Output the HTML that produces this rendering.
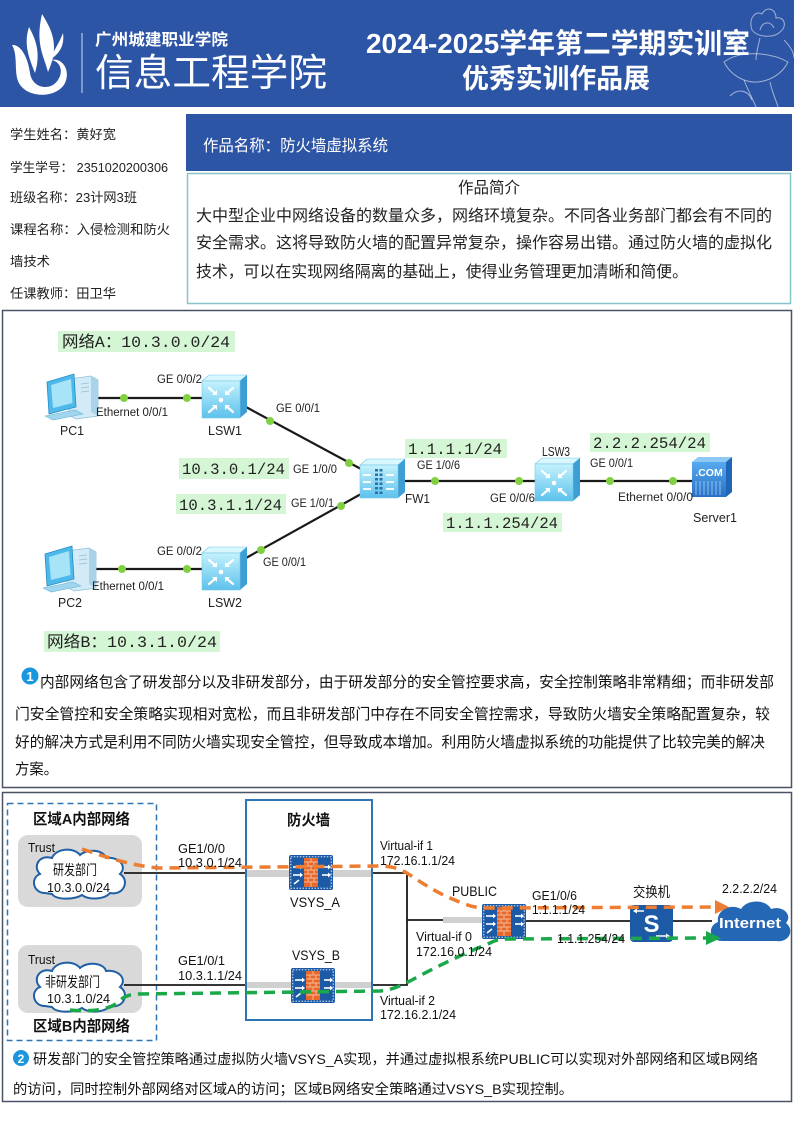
<!DOCTYPE html>
<html><head><meta charset="utf-8"><style>
html,body{margin:0;padding:0;background:#fff;}
svg{display:block;}
text{font-family:"Liberation Sans","Noto Sans CJK SC",sans-serif;}
.m{font-family:"Liberation Mono","Noto Sans CJK SC",monospace;}
</style></head><body>
<svg width="794" height="1123" viewBox="0 0 794 1123" xmlns="http://www.w3.org/2000/svg">
<defs>
<linearGradient id="gsw" x1="0" y1="0" x2="0" y2="1"><stop offset="0" stop-color="#c4f2fd"/><stop offset="1" stop-color="#5cc1ec"/></linearGradient>
<linearGradient id="gsv" x1="0" y1="0" x2="0" y2="1"><stop offset="0" stop-color="#55aaf0"/><stop offset="1" stop-color="#2a70c6"/></linearGradient>
<g id="sw">
 <polygon points="0,6 7,0 45,0 38,6" fill="#d9f7fe" stroke="#78c8e8" stroke-width="0.6"/>
 <polygon points="38,6 45,0 45,37 38,43" fill="#3c9ed3"/>
 <rect x="0" y="6" width="38" height="37" fill="url(#gsw)" stroke="#78c8e8" stroke-width="0.6"/>
 <g stroke="#fff" stroke-width="2.2" fill="none" stroke-linecap="round">
  <path d="M7,13 L14,19"/><path d="M31,13 L24,19"/><path d="M7,37 L14,31"/><path d="M31,37 L24,31"/>
 </g>
 <g fill="#fff">
  <polygon points="15,20 10,20 15,15"/><polygon points="23,20 28,20 23,15"/><polygon points="15,30 10,30 15,35"/><polygon points="23,30 28,30 23,35"/>
  <circle cx="19" cy="25" r="2.3"/>
 </g>
</g>
<g id="fw">
 <polygon points="0,6 7,0 45,0 38,6" fill="#d9f7fe" stroke="#78c8e8" stroke-width="0.6"/>
 <polygon points="38,6 45,0 45,33 38,39" fill="#3c9ed3"/>
 <rect x="0" y="6" width="38" height="33" fill="url(#gsw)" stroke="#78c8e8" stroke-width="0.6"/>
 <g fill="#2b6fa8">
  <rect x="15" y="10" width="3" height="2.5"/><rect x="19.5" y="10" width="3" height="2.5"/>
  <rect x="15" y="14.5" width="3" height="2.5"/><rect x="19.5" y="14.5" width="3" height="2.5"/>
  <rect x="15" y="19" width="3" height="2.5"/><rect x="19.5" y="19" width="3" height="2.5"/>
  <rect x="15" y="23.5" width="3" height="2.5"/><rect x="19.5" y="23.5" width="3" height="2.5"/>
  <rect x="15" y="28" width="3" height="2.5"/><rect x="19.5" y="28" width="3" height="2.5"/>
  <rect x="15" y="32.5" width="3" height="2.5"/><rect x="19.5" y="32.5" width="3" height="2.5"/>
 </g>
 <g stroke="#fff" stroke-width="1.8" fill="none"><path d="M3,16 L11,16"/><path d="M3,23 L11,23"/><path d="M3,30 L11,30"/><path d="M26,16 L34,16"/><path d="M26,23 L34,23"/><path d="M26,30 L34,30"/></g>
</g>
<g id="pc">
 <polygon points="24,7 46,4 53,8 53,44 31,47 24,43" fill="#d3ebf6" stroke="#8cc2da" stroke-width="0.8"/>
 <polygon points="46,4 53,8 53,44 46,40" fill="#a9d3e8"/>
 <g stroke="#9fc8dc" stroke-width="1"><line x1="36" y1="12" x2="44" y2="11"/><line x1="36" y1="16" x2="44" y2="15"/><line x1="36" y1="20" x2="44" y2="19"/></g>
 <polygon points="2,10 29,2 31,35 4,42" fill="#4cb9ea" stroke="#2a8cc4" stroke-width="0.8"/>
 <polygon points="6,13 26,7 27.5,31 8,36" fill="#a8e4f8"/>
 <polygon points="0,44 30,38 38,42 8,48" fill="#9fd6ee" stroke="#6fb6d6" stroke-width="0.6"/>
</g>
<g id="vs">
 <rect x="0" y="0" width="44" height="35" rx="2" fill="#1d5aa6"/>
 <rect x="1.8" y="1.8" width="40.4" height="31.4" fill="none" stroke="#fff" stroke-width="0.9" stroke-dasharray="1.5 1.5"/>
 <rect x="15" y="3" width="14" height="29" fill="#e8672a"/>
 <g stroke="#f6c3a0" stroke-width="0.9">
  <line x1="15" y1="7" x2="29" y2="7"/><line x1="15" y1="11" x2="29" y2="11"/><line x1="15" y1="15" x2="29" y2="15"/><line x1="15" y1="19" x2="29" y2="19"/><line x1="15" y1="23" x2="29" y2="23"/><line x1="15" y1="27" x2="29" y2="27"/>
  <line x1="22" y1="3" x2="22" y2="7"/><line x1="19" y1="7" x2="19" y2="11"/><line x1="25" y1="7" x2="25" y2="11"/><line x1="22" y1="11" x2="22" y2="15"/><line x1="19" y1="15" x2="19" y2="19"/><line x1="25" y1="15" x2="25" y2="19"/><line x1="22" y1="19" x2="22" y2="23"/><line x1="19" y1="23" x2="19" y2="27"/><line x1="25" y1="23" x2="25" y2="27"/><line x1="22" y1="27" x2="22" y2="32"/>
 </g>
 <g stroke="#fff" stroke-width="1.6"><line x1="4" y1="12" x2="11" y2="12"/><line x1="4" y1="20" x2="11" y2="20"/><line x1="33" y1="12" x2="39" y2="12"/><line x1="33" y1="20" x2="39" y2="20"/><line x1="5" y1="29" x2="10" y2="25"/></g>
 <g fill="#fff"><polygon points="11,9.5 14,12 11,14.5"/><polygon points="11,17.5 14,20 11,22.5"/><polygon points="39,9.5 42,12 39,14.5"/><polygon points="39,17.5 42,20 39,22.5"/></g>
</g>
</defs>

<!-- HEADER -->
<rect x="0" y="0" width="794" height="107" fill="#2D55A5"/>
<g fill="#fff">
 <path d="M12,45 C21,44 28,58 30,73 C32,88 50,92 58,80 C64,71 60,61 51,60 C62,57 71,70 65,83 C57,99 25,99 18,81 C14,70 18,55 12,45 Z"/>
 <path d="M42,14 C52,30 60,46 48,72 C44,56 35,44 42,14 Z"/>
 <path d="M29,27 C36,40 41,53 35,73 C30,60 23,45 29,27 Z"/>
 <path d="M63,33 C59,44 53,51 50,60 C57,55 65,48 63,33 Z"/>
</g>
<line x1="82" y1="33" x2="82" y2="93" stroke="#fff" stroke-opacity="0.8" stroke-width="1"/>
<text x="95" y="45" font-size="16" font-weight="bold" fill="#fff" textLength="133" lengthAdjust="spacingAndGlyphs">广州城建职业学院</text>
<text x="95" y="86" font-size="38" fill="#fff" textLength="232" lengthAdjust="spacingAndGlyphs">信息工程学院</text>
<text x="366" y="53" font-size="28" font-weight="bold" fill="#fff" textLength="384" lengthAdjust="spacingAndGlyphs">2024-2025学年第二学期实训室</text>
<text x="462" y="88" font-size="27" font-weight="bold" fill="#fff" textLength="188" lengthAdjust="spacingAndGlyphs">优秀实训作品展</text>
<g fill="none" stroke="#ffffff" stroke-opacity="0.55" stroke-width="1">
 <path d="M752,30 C748,18 756,10 762,14 C766,6 776,8 776,18 C784,16 788,26 780,32 C774,38 758,38 752,30 Z"/>
 <path d="M760,30 C762,22 770,20 774,28"/>
 <path d="M742,40 C736,30 730,32 728,40 C736,42 740,46 744,52"/>
 <path d="M724,62 C740,50 770,52 788,62 C780,78 760,86 744,80 C734,76 728,70 724,62 Z"/>
 <path d="M744,80 C748,90 752,98 756,107"/><path d="M770,82 C772,92 776,100 778,107"/>
 <path d="M760,38 C758,46 756,54 756,60"/><path d="M784,40 C790,46 794,52 794,58"/>
 <path d="M730,96 C738,88 748,90 752,100"/>
</g>

<!-- LEFT INFO -->
<g font-size="13.3" fill="#222">
<text x="10" y="139" textLength="106" lengthAdjust="spacingAndGlyphs">学生姓名：黄好宽</text>
<text x="10" y="172" textLength="158" lengthAdjust="spacingAndGlyphs">学生学号： 2351020200306</text>
<text x="10" y="202" textLength="127" lengthAdjust="spacingAndGlyphs">班级名称：23计网3班</text>
<text x="10" y="234" textLength="160" lengthAdjust="spacingAndGlyphs">课程名称：入侵检测和防火</text>
<text x="10" y="266" textLength="40" lengthAdjust="spacingAndGlyphs">墙技术</text>
<text x="10" y="298" textLength="106" lengthAdjust="spacingAndGlyphs">任课教师：田卫华</text>
</g>

<!-- TITLE & INTRO -->
<rect x="186" y="114" width="606" height="57" fill="#2D55A5"/>
<text x="203" y="151" font-size="16" fill="#fff" textLength="185" lengthAdjust="spacingAndGlyphs">作品名称：防火墙虚拟系统</text>
<rect x="187.5" y="173.5" width="603" height="130" fill="none" stroke="#86c5c9" stroke-width="1.5"/>
<g font-size="16" fill="#222">
<text x="458" y="193" textLength="62" lengthAdjust="spacingAndGlyphs">作品简介</text>
<text x="196" y="221" textLength="576" lengthAdjust="spacingAndGlyphs">大中型企业中网络设备的数量众多，网络环境复杂。不同各业务部门都会有不同的</text>
<text x="196" y="248" textLength="576" lengthAdjust="spacingAndGlyphs">安全需求。这将导致防火墙的配置异常复杂，操作容易出错。通过防火墙的虚拟化</text>
<text x="196" y="277" textLength="492" lengthAdjust="spacingAndGlyphs">技术，可以在实现网络隔离的基础上，使得业务管理更加清晰和简便。</text>
</g>

<!-- TOP DIAGRAM BOX -->
<rect x="2.5" y="310.5" width="789" height="477" fill="none" stroke="#4a5366" stroke-width="1.5"/>

<!-- highlights -->
<g fill="#d5f6d5">
<rect x="58" y="331" width="177" height="21"/>
<rect x="179" y="458" width="110" height="21"/>
<rect x="176" y="494" width="110" height="20"/>
<rect x="44" y="631" width="176" height="21"/>
<rect x="405" y="439" width="102" height="19"/>
<rect x="443" y="513" width="119" height="19"/>
<rect x="590" y="433" width="120" height="19"/>
</g>
<g class="m" font-size="16" fill="#222">
<text class="m" x="62" y="347" textLength="168" lengthAdjust="spacingAndGlyphs">网络A：10.3.0.0/24</text>
<text class="m" x="182" y="474" textLength="103" lengthAdjust="spacingAndGlyphs">10.3.0.1/24</text>
<text class="m" x="179" y="510" textLength="103" lengthAdjust="spacingAndGlyphs">10.3.1.1/24</text>
<text class="m" x="47" y="647" textLength="170" lengthAdjust="spacingAndGlyphs">网络B：10.3.1.0/24</text>
<text class="m" x="408" y="454" textLength="94" lengthAdjust="spacingAndGlyphs">1.1.1.1/24</text>
<text class="m" x="446" y="528" textLength="112" lengthAdjust="spacingAndGlyphs">1.1.1.254/24</text>
<text class="m" x="593" y="448" textLength="113" lengthAdjust="spacingAndGlyphs">2.2.2.254/24</text>
</g>

<!-- links -->
<g stroke="#1a1a1a" stroke-width="2.2">
<line x1="98" y1="398" x2="202" y2="398"/>
<line x1="246" y1="407" x2="361" y2="469"/>
<line x1="361" y1="494" x2="246" y2="558"/>
<line x1="96" y1="569" x2="202" y2="569"/>
<line x1="405" y1="481" x2="535" y2="481"/>
<line x1="580" y1="481" x2="692" y2="481"/>
</g>
<use href="#pc" x="45" y="372"/>
<use href="#pc" x="43" y="544"/>
<use href="#sw" x="202" y="375"/>
<use href="#sw" x="202" y="547"/>
<use href="#sw" x="535" y="458"/>
<use href="#fw" x="360" y="459"/>
<!-- server -->
<g transform="translate(692,457)">
 <polygon points="0,5 6,0 40,0 34,5" fill="#8ec9f4"/>
 <polygon points="34,5 40,0 40,35 34,40" fill="#1f66b6"/>
 <rect x="0" y="5" width="34" height="35" fill="url(#gsv)"/>
 <g stroke="#a8d6fa" stroke-width="0.8"><line x1="4" y1="24" x2="4" y2="38"/><line x1="8" y1="24" x2="8" y2="38"/><line x1="12" y1="24" x2="12" y2="38"/><line x1="16" y1="24" x2="16" y2="38"/><line x1="20" y1="24" x2="20" y2="38"/><line x1="24" y1="24" x2="24" y2="38"/><line x1="28" y1="24" x2="28" y2="38"/></g>
 <text x="17" y="19" font-size="10.5" font-weight="bold" fill="#fff" text-anchor="middle">.COM</text>
</g>
<g fill="#7fd142">
<circle cx="124" cy="398" r="4"/><circle cx="187" cy="398" r="4"/>
<circle cx="270" cy="421" r="4"/><circle cx="349" cy="463" r="4"/>
<circle cx="341" cy="506" r="4"/><circle cx="261" cy="550" r="4"/>
<circle cx="122" cy="569" r="4"/><circle cx="187" cy="569" r="4"/>
<circle cx="435" cy="481" r="4"/><circle cx="519" cy="481" r="4"/>
<circle cx="610" cy="481" r="4"/><circle cx="673" cy="481" r="4"/>
</g>
<g font-size="11.5" fill="#222">
<text x="157" y="383" textLength="45" lengthAdjust="spacingAndGlyphs">GE 0/0/2</text>
<text x="96" y="416" textLength="72" lengthAdjust="spacingAndGlyphs">Ethernet 0/0/1</text>
<text x="60" y="435" font-size="12.5" textLength="24" lengthAdjust="spacingAndGlyphs">PC1</text>
<text x="208" y="435" font-size="12.5" textLength="34" lengthAdjust="spacingAndGlyphs">LSW1</text>
<text x="276" y="412" textLength="44" lengthAdjust="spacingAndGlyphs">GE 0/0/1</text>
<text x="293" y="473" textLength="44" lengthAdjust="spacingAndGlyphs">GE 1/0/0</text>
<text x="291" y="507" textLength="43" lengthAdjust="spacingAndGlyphs">GE 1/0/1</text>
<text x="263" y="566" textLength="43" lengthAdjust="spacingAndGlyphs">GE 0/0/1</text>
<text x="157" y="555" textLength="45" lengthAdjust="spacingAndGlyphs">GE 0/0/2</text>
<text x="92" y="590" textLength="72" lengthAdjust="spacingAndGlyphs">Ethernet 0/0/1</text>
<text x="58" y="607" font-size="12.5" textLength="24" lengthAdjust="spacingAndGlyphs">PC2</text>
<text x="208" y="607" font-size="12.5" textLength="34" lengthAdjust="spacingAndGlyphs">LSW2</text>
<text x="405" y="503" font-size="12.5" textLength="25" lengthAdjust="spacingAndGlyphs">FW1</text>
<text x="417" y="469" textLength="43" lengthAdjust="spacingAndGlyphs">GE 1/0/6</text>
<text x="490" y="502" textLength="45" lengthAdjust="spacingAndGlyphs">GE 0/0/6</text>
<text x="542" y="456" font-size="12.5" textLength="28" lengthAdjust="spacingAndGlyphs">LSW3</text>
<text x="590" y="467" textLength="43" lengthAdjust="spacingAndGlyphs">GE 0/0/1</text>
<text x="618" y="501" textLength="75" lengthAdjust="spacingAndGlyphs">Ethernet 0/0/0</text>
<text x="693" y="522" font-size="12.5" textLength="44" lengthAdjust="spacingAndGlyphs">Server1</text>
</g>

<!-- paragraph 1 -->
<circle cx="30" cy="676" r="8.5" fill="#1a96dd"/>
<text x="30" y="681" font-size="13" font-weight="bold" fill="#fff" text-anchor="middle">1</text>
<g font-size="15" fill="#111">
<text x="40" y="687" textLength="734" lengthAdjust="spacingAndGlyphs">内部网络包含了研发部分以及非研发部分，由于研发部分的安全管控要求高，安全控制策略非常精细；而非研发部</text>
<text x="15" y="719" textLength="755" lengthAdjust="spacingAndGlyphs">门安全管控和安全策略实现相对宽松，而且非研发部门中存在不同安全管控需求，导致防火墙安全策略配置复杂，较</text>
<text x="15" y="747" textLength="750" lengthAdjust="spacingAndGlyphs">好的解决方式是利用不同防火墙实现安全管控，但导致成本增加。利用防火墙虚拟系统的功能提供了比较完美的解决</text>
<text x="15" y="774" textLength="43" lengthAdjust="spacingAndGlyphs">方案。</text>
</g>

<!-- BOTTOM BOX -->
<rect x="2.5" y="792.5" width="789" height="309" fill="none" stroke="#4a5366" stroke-width="1.5"/>
<rect x="7.5" y="803.5" width="149" height="237" fill="none" stroke="#2e75b6" stroke-width="1.5" stroke-dasharray="6 4"/>
<rect x="18" y="835" width="124" height="72" rx="10" fill="#d9d9d9"/>
<rect x="18" y="945" width="124" height="68" rx="10" fill="#d9d9d9"/>
<!-- black lines -->
<g stroke="#1a1a1a" stroke-width="1.8" fill="none">
<line x1="124" y1="873" x2="246" y2="873"/>
<line x1="124" y1="985" x2="246" y2="985"/>
<polyline points="372,873 407,873 407,985 372,985"/>
<line x1="407" y1="920" x2="443" y2="920"/>
<line x1="525" y1="921" x2="630" y2="921"/>
<line x1="673" y1="921" x2="712" y2="921"/>
</g>
<!-- clouds -->
<path d="M45,893 C33,893 30,878 40,874 C32,866 40,854 52,858 C56,848 74,847 80,855 C88,848 104,850 106,858 C118,856 128,866 120,874 C130,880 124,896 110,893 C104,900 88,900 82,895 C74,900 56,900 52,894 Z" fill="#fff" stroke="#1f5fa5" stroke-width="2"/>
<path transform="translate(0,113)" d="M45,893 C33,893 30,878 40,874 C32,866 40,854 52,858 C56,848 74,847 80,855 C88,848 104,850 106,858 C118,856 128,866 120,874 C130,880 124,896 110,893 C104,900 88,900 82,895 C74,900 56,900 52,894 Z" fill="#fff" stroke="#1f5fa5" stroke-width="2"/>
<!-- firewall box -->
<rect x="246" y="800" width="126" height="220" fill="#fff" stroke="#2e75b6" stroke-width="2"/>
<rect x="247" y="870" width="124" height="7" fill="#d0d0d0"/>
<rect x="247" y="982" width="124" height="6" fill="#d0d0d0"/>
<rect x="443" y="917" width="40" height="6" fill="#d0d0d0"/>
<use href="#vs" x="289" y="855"/>
<use href="#vs" x="291" y="968"/>
<use href="#vs" x="482" y="904"/>
<!-- switch -->
<g transform="translate(630,905)">
 <rect x="0" y="0" width="43" height="37" rx="4" fill="#1d5aa6"/>
 <text x="21.5" y="27" font-size="24" font-weight="bold" fill="#fff" text-anchor="middle">S</text>
 <g stroke="#fff" stroke-width="1.5" fill="none"><line x1="5" y1="6" x2="14" y2="6"/><line x1="26" y1="31" x2="38" y2="31"/></g>
 <g fill="#fff"><polygon points="3,6 7,3.5 7,8.5"/><polygon points="40,31 36,28.5 36,33.5"/></g>
</g>
<!-- internet -->
<path d="M722,941 C709,941 707,926 718,922 C716,910 731,903 741,909 C747,899 766,899 771,909 C783,905 793,915 786,923 C795,930 789,943 776,941 Z" fill="#2467b5"/>
<text x="750" y="928" font-size="15" font-weight="bold" fill="#fff" text-anchor="middle" textLength="62" lengthAdjust="spacingAndGlyphs">Internet</text>
<!-- dashed flows -->
<g fill="none" stroke-width="3.5" stroke-dasharray="11 7">
<path d="M82,849 C100,855 130,866 160,868 L380,866 C395,866 402,870 410,875 C425,885 440,895 465,904 C472,907 478,908 490,908 L716,907" stroke="#ed7d31"/>
<path d="M70,1010 C90,1012 110,1010 118,1002 C124,996 130,994 140,994 L380,991 C392,990 400,986 410,981 C430,970 460,955 490,943 C496,940 500,939 508,939 L708,938" stroke="#1aa84a"/>
</g>
<polygon points="715,900 729,907 715,914" fill="#ed7d31"/>
<polygon points="706,931 721,938 706,945" fill="#1aa84a"/>

<!-- bottom labels -->
<g font-size="13" fill="#111">
<text x="33" y="824" font-size="15" font-weight="bold" textLength="97" lengthAdjust="spacingAndGlyphs">区域A内部网络</text>
<text x="33" y="1031" font-size="15" font-weight="bold" textLength="97" lengthAdjust="spacingAndGlyphs">区域B内部网络</text>
<text x="287" y="825" font-size="15" font-weight="bold" textLength="43" lengthAdjust="spacingAndGlyphs">防火墙</text>
<text x="28" y="852" textLength="27" lengthAdjust="spacingAndGlyphs">Trust</text>
<text x="28" y="964" textLength="27" lengthAdjust="spacingAndGlyphs">Trust</text>
<text x="53" y="875" font-size="14" textLength="44" lengthAdjust="spacingAndGlyphs">研发部门</text>
<text x="47" y="892" textLength="63" lengthAdjust="spacingAndGlyphs">10.3.0.0/24</text>
<text x="45" y="987" font-size="14" textLength="55" lengthAdjust="spacingAndGlyphs">非研发部门</text>
<text x="47" y="1003" textLength="63" lengthAdjust="spacingAndGlyphs">10.3.1.0/24</text>
<text x="178" y="853" textLength="47" lengthAdjust="spacingAndGlyphs">GE1/0/0</text>
<text x="178" y="867" textLength="64" lengthAdjust="spacingAndGlyphs">10.3.0.1/24</text>
<text x="178" y="965" textLength="47" lengthAdjust="spacingAndGlyphs">GE1/0/1</text>
<text x="178" y="980" textLength="64" lengthAdjust="spacingAndGlyphs">10.3.1.1/24</text>
<text x="290" y="907" font-size="14" textLength="50" lengthAdjust="spacingAndGlyphs">VSYS_A</text>
<text x="292" y="960" font-size="14" textLength="48" lengthAdjust="spacingAndGlyphs">VSYS_B</text>
<text x="380" y="850" textLength="53" lengthAdjust="spacingAndGlyphs">Virtual-if 1</text>
<text x="380" y="865" textLength="75" lengthAdjust="spacingAndGlyphs">172.16.1.1/24</text>
<text x="452" y="896" font-size="14" textLength="45" lengthAdjust="spacingAndGlyphs">PUBLIC</text>
<text x="416" y="941" textLength="56" lengthAdjust="spacingAndGlyphs">Virtual-if 0</text>
<text x="416" y="956" textLength="76" lengthAdjust="spacingAndGlyphs">172.16.0.1/24</text>
<text x="380" y="1005" textLength="55" lengthAdjust="spacingAndGlyphs">Virtual-if 2</text>
<text x="380" y="1019" textLength="76" lengthAdjust="spacingAndGlyphs">172.16.2.1/24</text>
<text x="532" y="900" textLength="45" lengthAdjust="spacingAndGlyphs">GE1/0/6</text>
<text x="532" y="914" textLength="53" lengthAdjust="spacingAndGlyphs">1.1.1.1/24</text>
<text x="557" y="943" textLength="68" lengthAdjust="spacingAndGlyphs">1.1.1.254/24</text>
<text x="633" y="897" font-size="14" textLength="37" lengthAdjust="spacingAndGlyphs">交换机</text>
<text x="722" y="893" textLength="55" lengthAdjust="spacingAndGlyphs">2.2.2.2/24</text>
</g>

<!-- paragraph 2 -->
<circle cx="21" cy="1058" r="8" fill="#1a96dd"/>
<text x="21" y="1063" font-size="12" font-weight="bold" fill="#fff" text-anchor="middle">2</text>
<g font-size="14" fill="#111">
<text x="33" y="1064" textLength="725" lengthAdjust="spacingAndGlyphs">研发部门的安全管控策略通过虚拟防火墙VSYS_A实现，并通过虚拟根系统PUBLIC可以实现对外部网络和区域B网络</text>
<text x="13" y="1094" textLength="560" lengthAdjust="spacingAndGlyphs">的访问，同时控制外部网络对区域A的访问；区域B网络安全策略通过VSYS_B实现控制。</text>
</g>
</svg>
</body></html>
